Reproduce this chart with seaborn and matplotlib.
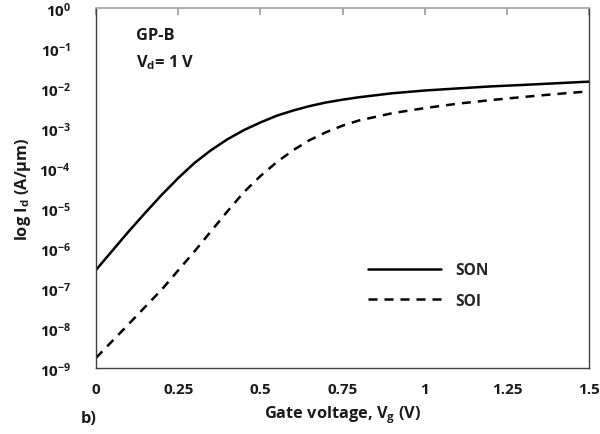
import numpy as np
import pandas as pd
import matplotlib
matplotlib.use("Agg")
import matplotlib.pyplot as plt
import seaborn as sns

# Id-Vg transfer curves, GP-B, Vd = 1 V
vg_son = [0, 0.1, 0.15, 0.2, 0.25, 0.3, 0.35, 0.4, 0.45, 0.5, 0.55, 0.6,
          0.65, 0.7, 0.75, 0.8, 0.9, 1.0, 1.1, 1.2, 1.3, 1.4, 1.5]
id_son = [2.82e-7, 2.63e-6, 7.6e-6, 2.14e-5, 5.6e-5, 1.35e-4, 2.8e-4, 5.25e-4,
          8.9e-4, 1.38e-3, 2.04e-3, 2.75e-3, 3.55e-3, 4.37e-3, 5.13e-3,
          5.9e-3, 7.4e-3, 8.7e-3, 9.8e-3, 1.1e-2, 1.2e-2, 1.32e-2, 1.45e-2]

vg_soi = [0, 0.1, 0.15, 0.2, 0.25, 0.3, 0.35, 0.4, 0.45, 0.5, 0.55, 0.6,
          0.65, 0.7, 0.75, 0.8, 0.9, 1.0, 1.1, 1.2, 1.3, 1.4, 1.5]
id_soi = [1.78e-9, 1.26e-8, 3.4e-8, 9.1e-8, 2.75e-7, 8.3e-7, 2.63e-6, 8.3e-6,
          2.5e-5, 6.3e-5, 1.41e-4, 2.8e-4, 5.0e-4, 7.9e-4, 1.15e-3, 1.55e-3,
          2.34e-3, 3.16e-3, 4.07e-3, 5.0e-3, 6.0e-3, 7.1e-3, 8.3e-3]

x_ticks = [0, 0.25, 0.5, 0.75, 1, 1.25, 1.5]
x_ticklabels = ["0", "0.25", "0.5", "0.75", "1", "1.25", "1.5"]
y_exponents = list(range(0, -10, -1))

sns.set_theme(style="white")
plt.rcParams["font.family"] = ["Open Sans", "DejaVu Sans"]
plt.rcParams["font.weight"] = "bold"
plt.rcParams["mathtext.fontset"] = "custom"
plt.rcParams["mathtext.rm"] = "Open Sans:bold"
plt.rcParams["mathtext.it"] = "Open Sans:bold"
plt.rcParams["mathtext.bf"] = "Open Sans:bold"

df = pd.concat([
    pd.DataFrame({"Vg": vg_son, "Id": id_son, "device": "SON"}),
    pd.DataFrame({"Vg": vg_soi, "Id": id_soi, "device": "SOI"}),
])

fig, ax = plt.subplots(figsize=(6, 4.35), dpi=100)
fig.subplots_adjust(left=0.16, right=0.982, top=0.979, bottom=0.152)

sns.lineplot(data=df, x="Vg", y="Id", style="device",
             dashes={"SON": "", "SOI": (3.6, 2.8)},
             color="black", linewidth=1.8, ax=ax, legend=False)

ax.set_yscale("log")
ax.set_ylim(1e-9, 1)
ax.set_xlim(0, 1.5)

ax.set_yticks([10.0 ** e for e in y_exponents])
ax.set_yticklabels([r"$10^{%d}$" % e for e in y_exponents])
ax.yaxis.set_minor_locator(matplotlib.ticker.NullLocator())
ax.set_xticks(x_ticks)
ax.set_xticklabels(x_ticklabels)

ax.tick_params(axis="y", length=0, pad=18, labelsize=11, labelcolor="#1a1a1a")
ax.tick_params(axis="x", top=True, bottom=False, direction="in", length=5,
               color="#a0a0a0", pad=10, labelsize=11, labelcolor="#1a1a1a")

for side in ["left", "bottom", "right"]:
    ax.spines[side].set_color("#404040")
    ax.spines[side].set_linewidth(1.0)
ax.spines["top"].set_color("#a6a6a6")

ax.set_xlabel(r"Gate voltage, V$_g$ (V)", fontsize=11.8, fontweight="bold",
              color="#1a1a1a", labelpad=5)
ax.set_ylabel(r"log I$_d$ (A/µm)", fontsize=11.8, fontweight="bold",
              color="#1a1a1a", labelpad=5)

ax.text(0.082, 0.925, "GP-B", transform=ax.transAxes, fontsize=11.8,
        fontweight="bold", va="center", color="#1a1a1a")
ax.text(0.082, 0.852, r"V$_d$= 1 V", transform=ax.transAxes, fontsize=11.8,
        fontweight="bold", va="center", color="#1a1a1a")

son_handle = matplotlib.lines.Line2D([], [], color="black", linewidth=1.8)
soi_handle = matplotlib.lines.Line2D([], [], color="black", linewidth=1.8,
                                     dashes=(3.6, 2.8))
ax.legend([son_handle, soi_handle], ["SON", "SOI"], loc="center left",
          bbox_to_anchor=(0.552, 0.229), frameon=False, borderpad=0,
          borderaxespad=0, handlelength=4.7, handletextpad=0.9,
          labelspacing=0.95, prop={"size": 11.2, "weight": "bold"})

fig.text(0.135, 0.037, "b)", fontsize=11.8, fontweight="bold",
         color="#1a1a1a", va="center")

fig.savefig("out.png", dpi=100)
